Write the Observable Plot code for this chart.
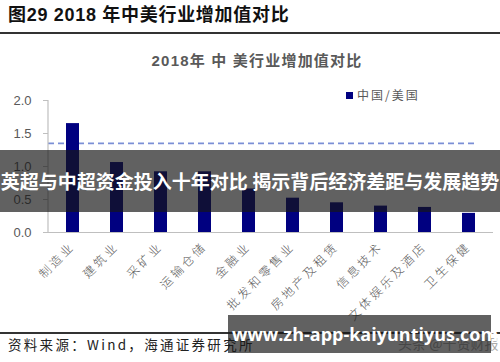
<!DOCTYPE html>
<html><head><meta charset="utf-8">
<script src="https://cdn.jsdelivr.net/npm/d3@7"></script>
<script src="https://cdn.jsdelivr.net/npm/@observablehq/plot@0.6"></script>
<style>
html,body{margin:0;padding:0;background:#fff;}
#root{position:relative;width:500px;height:362px;overflow:hidden;background:#fff;font-family:"Noto Sans CJK SC","Liberation Sans",sans-serif;}
.abs{position:absolute;white-space:nowrap;}
#head{left:8px;top:2px;font-size:18px;font-weight:bold;color:#111;line-height:26px;font-family:"Liberation Sans","Noto Sans CJK SC",sans-serif;letter-spacing:0.7px;}
#headline{left:0;top:32px;width:500px;height:2px;background:#333;}
#ctitle{left:0;width:514px;top:50px;text-align:center;font-size:15px;font-weight:bold;color:#595959;line-height:22px;letter-spacing:1.2px;font-family:"Liberation Sans","Noto Sans CJK SC",sans-serif;}
#legend{left:346px;top:86px;font-size:12px;color:#595959;line-height:18px;letter-spacing:2px;}
#legend span.sw{display:inline-block;width:7px;height:7px;background:#000080;margin-right:4px;vertical-align:1px;}
#chart{left:0;top:70px;}
#srcline{left:0;top:332px;width:500px;height:2px;background:#333;}
#src{left:8px;top:335px;font-size:13.5px;color:#222;line-height:18px;letter-spacing:2.3px;}
#faint{left:398px;top:333px;font-size:14px;color:#aaa;line-height:20px;}
#band1{left:0;top:150px;width:500px;height:62px;background:rgba(22,22,22,0.68);color:#fff;font-size:19px;font-weight:bold;line-height:62px;text-align:center;}
#band2{left:228px;top:315px;width:263px;height:38px;background:rgba(22,22,22,0.68);color:#fff;font-size:18px;font-weight:bold;line-height:38px;font-family:"Open Sans","Noto Sans",sans-serif;padding-left:4px;box-sizing:border-box;}
</style>
</head><body>
<div id="root">
  <div class="abs" id="head">图29 2018 年中美行业增加值对比</div>
  <div class="abs" id="headline"></div>
  <div class="abs" id="ctitle">2018年 中 美行业增加值对比</div>
  <div class="abs" id="chart"></div>
  <div class="abs" id="legend"><span class="sw"></span>中国/美国</div>
  <div class="abs" id="srcline"></div>
  <div class="abs" id="src">资料来源：Wind，海通证券研究所</div>
  <div class="abs" id="faint">头条 @千贤财报</div>
  <div class="abs" id="band1">英超与中超资金投入十年对比 揭示背后经济差距与发展趋势</div>
  <div class="abs" id="band2">www.zh-app-kaiyuntiyus.com</div>
</div>
<script>
const categories = ["制造业","建筑业","采矿业","运输仓储","金融业","批发和零售业","房地产及租赁","信息技术","文体娱乐及酒店","卫生保健"];
const values = [1.65, 1.06, 0.92, 0.92, 0.66, 0.52, 0.45, 0.40, 0.38, 0.29];
const yTicks = [0, 0.5, 1.0, 1.5, 2.0];
const refValue = [1.35];
const seriesName = "中国/美国";

const data = categories.map((c, i) => ({category: c, value: values[i]}));

const leftAxisLine = (index, scales, vals, dims) => {
  const l = d3.create("svg:line")
    .attr("x1", dims.marginLeft).attr("x2", dims.marginLeft)
    .attr("y1", scales.y(yTicks[0])).attr("y2", scales.y(yTicks[yTicks.length - 1]))
    .attr("stroke", "#bfbfbf").attr("stroke-width", 1.2);
  return l.node();
};

const plot = Plot.plot({
  width: 500,
  height: 257,
  marginTop: 30,
  marginBottom: 95,
  marginLeft: 48,
  marginRight: 7,
  style: {background: "transparent", fontFamily: "'Liberation Sans', Arial, sans-serif"},
  x: {domain: categories, paddingInner: 0.7, paddingOuter: 0.35, label: null},
  y: {domain: [0, 2], label: null},
  marks: [
    Plot.ruleY(refValue, {stroke: "#7b8fd6", strokeWidth: 1.6, strokeDasharray: "6,4", insetRight: 16}),
    Plot.barY(data, {x: "category", y: "value", fill: "#000080"}),
    Plot.ruleY([0], {stroke: "#bfbfbf", strokeWidth: 1.2}),
    leftAxisLine,
    Plot.axisY({ticks: yTicks, tickFormat: d3.format(".1f"), tickSize: 5, tickPadding: 12, fontSize: 13, color: "#595959", stroke: "#bfbfbf"}),
    Plot.axisX({tickRotate: -45, tickSize: 0, tickPadding: 12, fontSize: 12, color: "#595959", fontFamily: "'Noto Sans CJK SC', sans-serif"})
  ]
});
document.getElementById("chart").appendChild(plot);
d3.select(plot).selectAll("[aria-label='x-axis tick label'] text").style("letter-spacing", "3px").style("font-weight", "300");
d3.select(plot).selectAll("[aria-label='y-axis tick'] path").attr("stroke", "#bfbfbf");
</script>
</body></html>
